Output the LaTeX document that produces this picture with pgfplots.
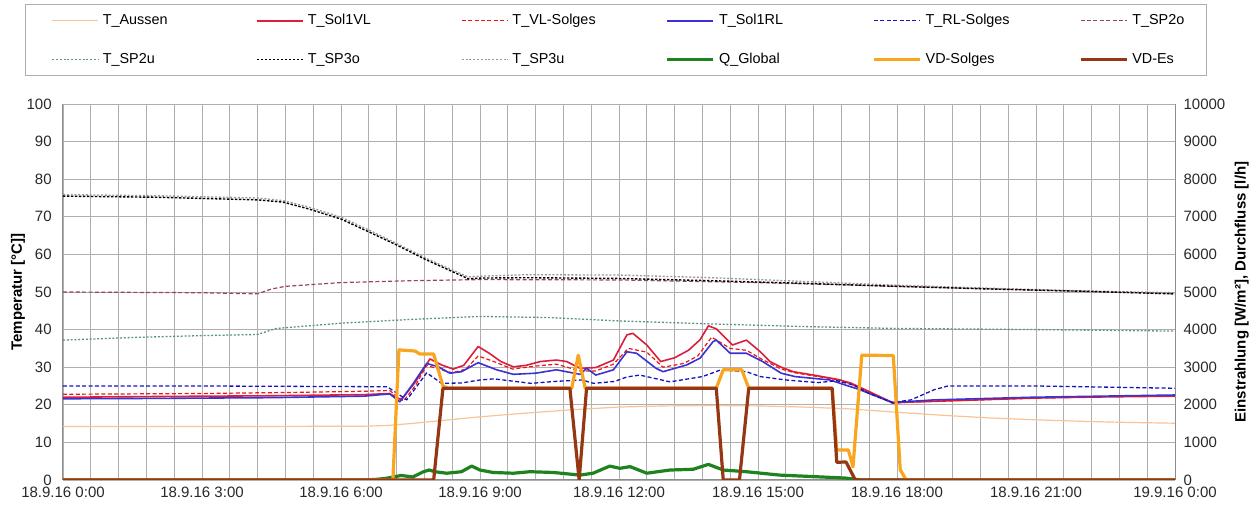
\documentclass[border=0pt]{standalone}
\usepackage{pgfplots}
\pgfplotsset{compat=1.18}
\usepackage{pgfplotstable}
\usepackage{fontspec}
\setmainfont{Liberation Sans}

\definecolor{cAus}{RGB}{248,196,150}
\definecolor{cVL}{RGB}{220,30,60}
\definecolor{cVLs}{RGB}{240,20,20}
\definecolor{cRL}{RGB}{60,50,210}
\definecolor{cRLs}{RGB}{20,20,190}
\definecolor{cSPtwoo}{RGB}{150,70,90}
\definecolor{cSPtwou}{RGB}{90,150,130}
\definecolor{cSPthreeu}{RGB}{150,150,150}
\definecolor{cQ}{RGB}{30,130,30}
\definecolor{cVD}{RGB}{250,165,30}
\definecolor{cVDEs}{RGB}{150,55,20}
\definecolor{cGrid}{RGB}{175,175,175}
\definecolor{cTxt}{RGB}{40,40,40}

\newcommand{\LE}[1]{\makebox[72pt][l]{#1}}
\newcommand{\LL}[1]{\makebox[22pt][l]{#1}}

\pgfplotstableread{
h v
0 14.2
3 14.2
6.5 14.3
7 14.5
7.5 15.0
8 15.6
8.5 16.2
9 16.8
10 17.8
11 18.7
12 19.4
13 19.7
14 19.8
15 19.7
16 19.4
17 18.9
18 18.0
19 17.2
20 16.5
21 16.0
22 15.6
23 15.3
24 15.1
}\tAus

\pgfplotstableread{
h v
0 22.0
2 22.2
4.5 22.4
6.5 22.7
7.05 23.0
7.3 21.3
7.6 26.0
7.92 32.2
8.17 30.6
8.42 29.5
8.65 30.5
8.96 35.5
9.2 33.7
9.45 31.5
9.72 30.1
10.0 30.5
10.3 31.5
10.65 31.9
10.87 31.5
11.16 29.7
11.5 29.9
11.88 31.9
12.17 38.6
12.3 39.0
12.6 35.9
12.9 31.5
13.2 32.5
13.5 34.5
13.75 37.3
13.93 41.0
14.1 40.2
14.45 35.9
14.75 37.2
15.05 34.1
15.26 31.5
15.5 30.0
15.76 28.8
16.2 27.9
16.7 26.8
17.0 25.8
17.4 23.5
17.9 20.6
18.5 20.8
19.5 21.2
21 21.8
22.5 22.1
24 22.3
}\tVL

\pgfplotstableread{
h v
0 22.8
3 23.0
5 23.3
6.5 23.6
7.05 23.8
7.35 21.0
7.6 25.0
7.85 30.5
8.1 29.5
8.4 28.5
8.7 29.5
8.96 33.0
9.3 31.5
9.7 29.5
10.2 30.3
10.65 30.8
11.16 29.0
11.5 29.0
11.88 30.8
12.2 35.0
12.6 34.0
12.95 30.0
13.4 31.0
13.7 33.0
14.0 38.0
14.4 35.0
14.75 34.5
15.1 32.0
15.5 29.5
15.8 28.5
16.3 27.5
16.8 26.5
17.3 24.0
17.9 20.4
18.5 20.8
19.5 21.2
21 21.8
24 22.5
}\tVLs

\pgfplotstableread{
h v
0 21.6
2 21.7
4.5 21.9
6.5 22.3
7.05 22.9
7.27 20.8
7.55 25.5
7.85 31.0
8.1 30.1
8.35 28.4
8.6 28.8
8.96 31.2
9.36 29.3
9.72 28.1
10.2 28.4
10.65 29.3
11.16 28.1
11.3 29.7
11.5 27.9
11.88 29.3
12.17 34.1
12.38 33.7
12.8 29.7
12.95 28.8
13.46 30.6
13.75 32.4
14.03 36.8
14.1 37.2
14.4 33.7
14.75 33.7
15.1 31.5
15.5 28.4
15.8 27.5
16.55 26.6
17.2 24.0
17.9 20.6
18.8 21.3
20.9 22.0
24 22.6
}\tRL

\pgfplotstableread{
h v
0 25.0
3 25.0
7.0 24.8
7.42 21.3
7.85 28.5
8.17 25.7
8.6 25.8
9.0 26.6
9.3 26.9
10.1 25.7
10.6 26.2
11.2 26.6
11.45 25.7
11.9 26.2
12.17 27.4
12.45 27.9
13.1 26.1
13.8 27.5
14.2 29.3
14.75 28.8
15.05 27.5
15.6 26.6
16.3 25.9
16.7 26.4
17.05 25.3
17.4 23.0
17.9 20.6
18.3 21.3
18.8 24.0
19.1 25.0
21 25.0
24 24.4
}\tRLs

\pgfplotstableread{
h v
0 50.0
3 49.8
4.2 49.5
4.5 50.8
4.8 51.5
6 52.5
7.5 53.0
9 53.3
12 53.2
15 52.5
18 51.5
21 50.5
24 49.5
}\tSPzo

\pgfplotstableread{
h v
0 37.2
1.5 37.9
3 38.4
4.2 38.7
4.6 40.3
6 41.7
7.5 42.7
9 43.5
10.5 43.2
12 42.3
14 41.5
16 40.8
18 40.3
21 40.0
24 39.6
}\tSPzu

\pgfplotstableread{
h v
0 75.5
2 75.2
4.2 74.5
4.75 73.9
5.3 72.1
6 69.4
6.6 66.0
7.2 62.5
7.85 58.5
8.3 56.0
8.75 53.5
9 53.7
10 53.8
12 53.6
14 53.0
16 52.3
18 51.5
20 50.8
22 50.2
24 49.5
}\tSPdo

\pgfplotstableread{
h v
0 75.9
2 75.6
4.2 75.0
4.75 74.3
5.3 72.6
6 69.9
6.6 66.5
7.2 62.9
7.85 58.9
8.3 56.4
8.75 54.0
9 54.2
10 54.6
12 54.5
14 53.8
16 52.8
18 51.8
20 51.0
22 50.3
24 49.8
}\tSPdu

\pgfplotstableread{
h v
0 0
6.5 0
6.8 20
7.0 50
7.3 120
7.55 80
7.78 220
7.9 265
8.03 220
8.28 180
8.6 220
8.82 370
9.0 265
9.28 200
9.72 180
10.08 220
10.58 200
11.16 130
11.44 180
11.8 370
12.02 310
12.24 355
12.6 180
13.1 265
13.6 285
13.93 415
14.25 265
14.75 220
15.47 130
16.2 90
16.9 50
17.2 0
24 0
}\tQ

\pgfplotstableread{
h v
0 0
7.12 0
7.25 3460
7.6 3430
7.7 3350
8.0 3350
8.2 2500
8.3 2440
10.98 2440
11.12 3320
11.27 2440
14.1 2440
14.25 2930
14.65 2930
14.8 2440
16.6 2440
16.7 800
16.95 800
17.05 350
17.24 3320
17.92 3310
18.07 270
18.2 0
24 0
}\tVD

\pgfplotstableread{
h v
0 0
8.0 0
8.2 2440
10.94 2440
11.14 0
11.3 2440
14.1 2440
14.25 0
14.6 0
14.8 2440
16.6 2440
16.7 470
16.9 480
17.1 0
24 0
}\tVDEs

\tikzset{
  sAus/.style={draw=cAus, line width=0.6pt},
  sVL/.style={draw=cVL, line width=0.8pt},
  sVLs/.style={draw=cVLs, line width=0.6pt, dash pattern=on 2pt off 1.2pt},
  sRL/.style={draw=cRL, line width=0.8pt},
  sRLs/.style={draw=cRLs, line width=0.65pt, dash pattern=on 2pt off 1.2pt},
  sSPzo/.style={draw=cSPtwoo, line width=0.6pt, dash pattern=on 2pt off 1.2pt},
  sSPzu/.style={draw=cSPtwou, line width=0.65pt, dash pattern=on 1pt off 0.9pt},
  sSPdo/.style={draw=black, line width=0.7pt, dash pattern=on 1.2pt off 0.8pt},
  sSPdu/.style={draw=cSPthreeu, line width=0.65pt, dash pattern=on 1pt off 0.9pt},
  sQ/.style={draw=cQ, line width=1.6pt},
  sVD/.style={draw=cVD, line width=1.6pt},
  sVDEs/.style={draw=cVDEs, line width=1.6pt},
}

\begin{document}
\fontsize{7.5}{9}\selectfont
\begin{tikzpicture}
\pgfplotsset{
  every axis/.append style={
    width=556pt, height=188pt, scale only axis,
    at={(0,0)}, anchor=south west,
    xmin=0, xmax=24,
    font=\fontsize{7.5}{9}\selectfont,
    /pgf/number format/assume math mode=true,
    tick label style={text=cTxt},
    major tick length=0pt, minor tick length=0pt,
    axis line style={draw=cGrid!80!black, line width=0.5pt},
    every axis plot/.append style={no markers, line join=round},
  },
}
\begin{axis}[
  ymin=0, ymax=100, ytick={0,10,...,100},
  xtick={0,3,...,24},
  xticklabels={18.9.16 0:00,18.9.16 3:00,18.9.16 6:00,18.9.16 9:00,18.9.16 12:00,18.9.16 15:00,18.9.16 18:00,18.9.16 21:00,19.9.16 0:00},
  minor xtick={0,0.6,...,23.9},
  grid=both,
  major grid style={draw=cGrid, line width=0.45pt},
  minor grid style={draw=cGrid, line width=0.45pt},
  axis x line*=bottom, axis y line*=left,
  yticklabel style={xshift=-3pt},
  xticklabel style={yshift=-1pt},
  ylabel={\bfseries Temperatur [°C]]},
  ylabel style={at={(axis description cs:-0.0405,0.5)}, anchor=center},
]
\addplot[sAus] table[x=h,y=v]{\tAus};
\addplot[sVL] table[x=h,y=v]{\tVL};
\addplot[sVLs] table[x=h,y=v]{\tVLs};
\addplot[sRL] table[x=h,y=v]{\tRL};
\addplot[sRLs] table[x=h,y=v]{\tRLs};
\addplot[sSPzo] table[x=h,y=v]{\tSPzo};
\addplot[sSPzu] table[x=h,y=v]{\tSPzu};
\addplot[sSPdu] table[x=h,y=v]{\tSPdu};
\addplot[sSPdo] table[x=h,y=v]{\tSPdo};
\end{axis}

\begin{axis}[
  ymin=0, ymax=10000, ytick={0,1000,...,10000},
  scaled y ticks=false,
  yticklabel style={/pgf/number format/1000 sep={}, xshift=1.6pt},
  axis y line*=right, axis x line=none,
  ylabel={\bfseries Einstrahlung [W/m²], Durchfluss [l/h]},
  ylabel style={at={(axis description cs:1.06,0.5)}, anchor=center},
  legend columns=6,
  legend cell align=left,
  legend image code/.code={\draw[#1] (0pt,0pt) -- (23pt,0pt);},
  legend style={
    at={(axis description cs:-0.0342,1.266)}, anchor=north west,
    draw=cGrid, line width=0.5pt, fill=white,
    font=\fontsize{7.2}{8.6}\selectfont,
    inner xsep=13pt, inner ysep=3pt,
    row sep=9pt,
    /tikz/every even column/.append style={column sep=2.7pt},
  },
]
\addlegendimage{sAus}\addlegendentry{\LE{T\_Aussen}}
\addlegendimage{sVL}\addlegendentry{\LE{T\_Sol1VL}}
\addlegendimage{sVLs}\addlegendentry{\LE{T\_VL-Solges}}
\addlegendimage{sRL}\addlegendentry{\LE{T\_Sol1RL}}
\addlegendimage{sRLs}\addlegendentry{\LE{T\_RL-Solges}}
\addlegendimage{sSPzo}\addlegendentry{\LL{T\_SP2o}}
\addlegendimage{sSPzu}\addlegendentry{\LE{T\_SP2u}}
\addlegendimage{sSPdo}\addlegendentry{\LE{T\_SP3o}}
\addlegendimage{sSPdu}\addlegendentry{\LE{T\_SP3u}}
\addplot[sQ] table[x=h,y=v]{\tQ};
\addlegendentry{\LE{Q\_Global}}
\addplot[sVD] table[x=h,y=v]{\tVD};
\addlegendentry{\LE{VD-Solges}}
\addplot[sVDEs] table[x=h,y=v]{\tVDEs};
\addlegendentry{\LL{VD-Es}}
\end{axis}
\path (-31.5pt,-13pt) rectangle (598.5pt,240pt);
\end{tikzpicture}
\end{document}
